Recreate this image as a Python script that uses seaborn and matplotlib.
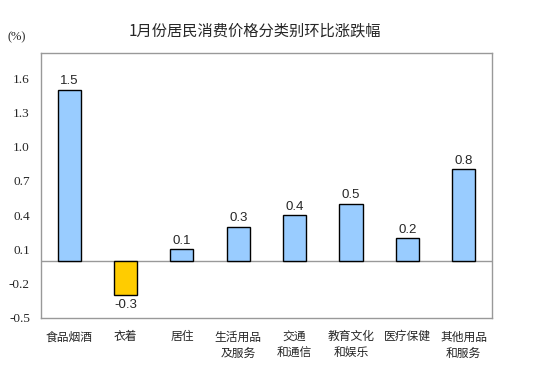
import pandas as pd
import matplotlib.pyplot as plt
import seaborn as sns

categories = ['食品烟酒', '衣着', '居住', '生活用品\n及服务', '交通\n和通信',
              '教育文化\n和娱乐', '医疗保健', '其他用品\n和服务']
values = [1.5, -0.3, 0.1, 0.3, 0.4, 0.5, 0.2, 0.8]
yticks = [-0.5, -0.2, 0.1, 0.4, 0.7, 1.0, 1.3, 1.6]

sns.set_style("white")
plt.rcParams['font.family'] = ['Noto Sans CJK SC', 'DejaVu Sans']

df = pd.DataFrame({'cat': categories, 'val': values})
df['sign'] = ['neg' if v < 0 else 'pos' for v in values]

fig = plt.figure(figsize=(5.54, 3.84), dpi=100)
ax = fig.add_axes([0.074, 0.172, 0.814, 0.69])

sns.barplot(data=df, x='cat', y='val', hue='sign', dodge=False, saturation=1,
            palette={'pos': '#99CCFF', 'neg': '#FFCC00'},
            edgecolor='black', linewidth=1.0, width=0.41, legend=False, ax=ax)

ax.axhline(0, color='#999999', linewidth=1.0, zorder=0.5)
ax.set_ylim(-0.5, 1.82)
ax.set_xlim(-0.5, len(categories) - 0.5)
ax.set_yticks(yticks)
ax.set_yticklabels([f'{t:.1f}' for t in yticks], family='Liberation Serif', fontsize=9.5)
ax.tick_params(axis='y', direction='in', length=4, color='#999999', pad=8)
ax.tick_params(axis='x', length=0, pad=9)
for lbl in ax.get_xticklabels():
    lbl.set_fontsize(8.5)
    lbl.set_linespacing(1.3)
ax.set_xlabel('')
ax.set_ylabel('')
for s in ax.spines.values():
    s.set_color('#999999')
    s.set_linewidth(1.0)

for i, v in enumerate(values):
    off = 0.02 if v >= 0 else -0.03
    ax.text(i, v + off, f'{v:.1f}', ha='center', va='bottom' if v >= 0 else 'top',
            family='Liberation Sans', fontsize=9.5)

fig.text(0.46, 0.92, '1月份居民消费价格分类别环比涨跌幅', ha='center', va='center', fontsize=11)
fig.text(0.03, 0.903, '(%)', ha='center', va='center', family='Liberation Serif', fontsize=9)

fig.savefig('out.png', dpi=100)
